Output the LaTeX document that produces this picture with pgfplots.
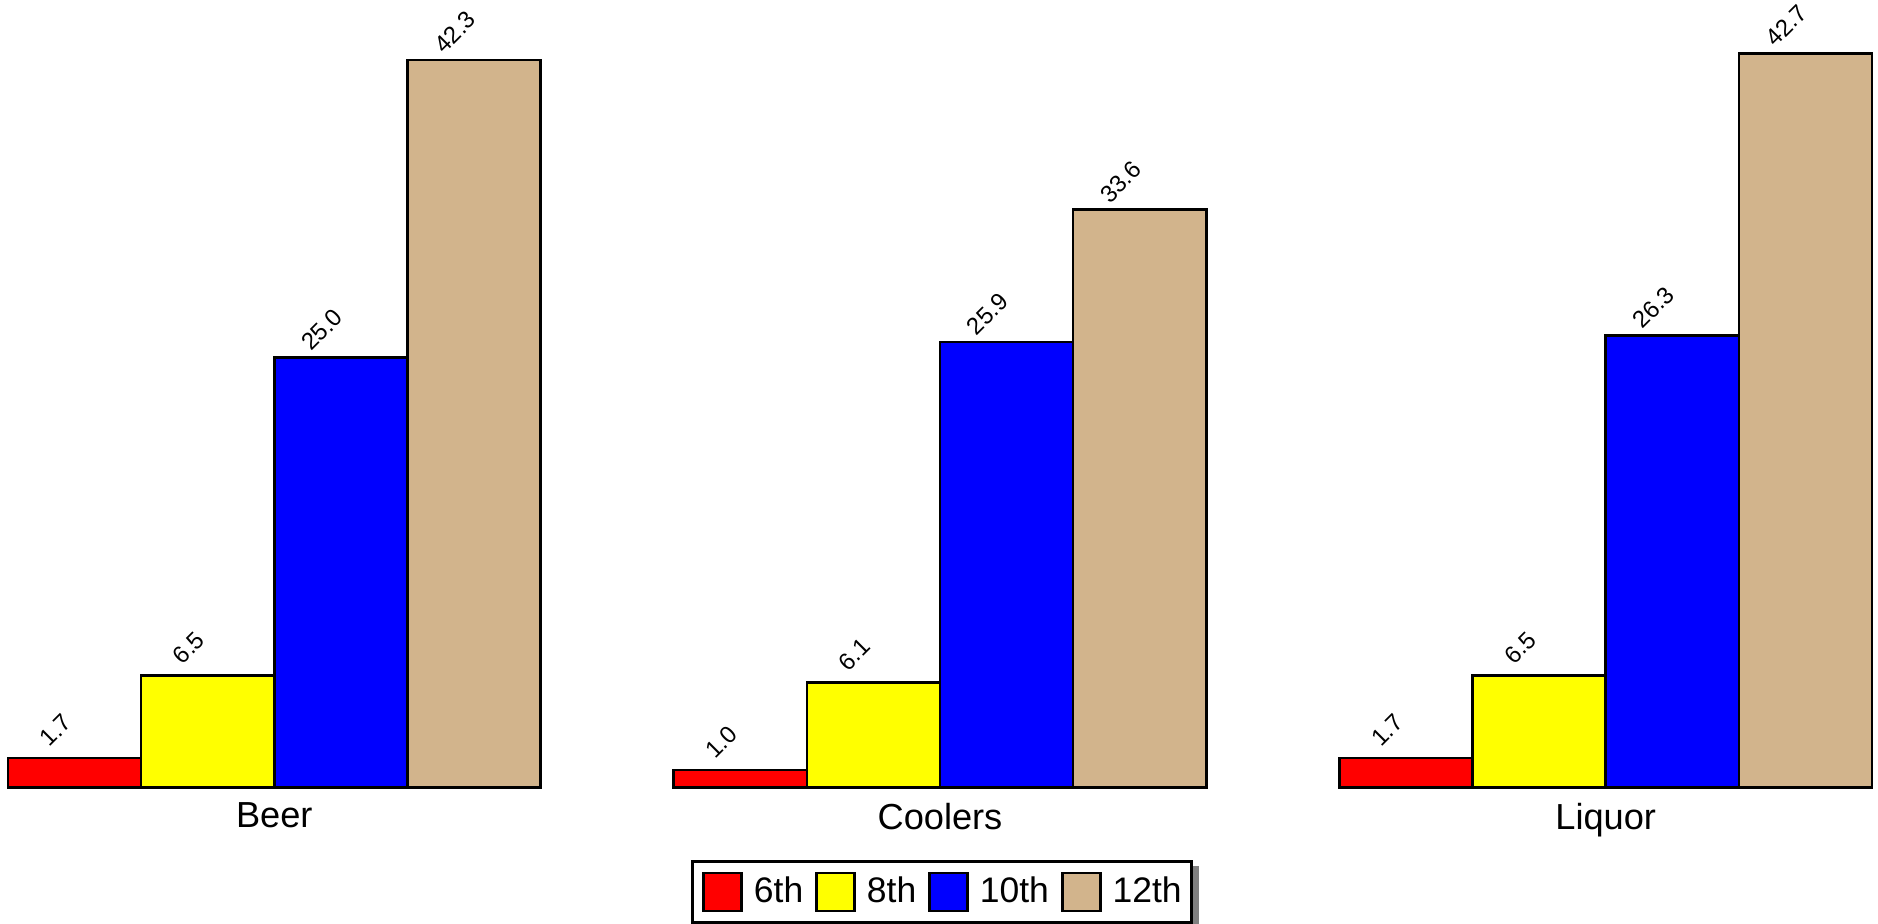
\documentclass[border=0pt]{standalone}
\usepackage{fontspec}
\setmainfont{Liberation Sans}
\usepackage{pgfplots}
\pgfplotsset{compat=1.18}
\usetikzlibrary{calc}
\pgfdeclarelayer{background}
\pgfsetlayers{background,main}

\definecolor{gr6}{RGB}{255,0,0}
\definecolor{gr8}{RGB}{255,255,0}
\definecolor{gr10}{RGB}{0,0,255}
\definecolor{gr12}{RGB}{210,180,140}

\begin{document}
\begin{tikzpicture}
\begin{axis}[
  scale only axis,
  width=18.78cm, height=7.87cm,
  xmin=-2.06, xmax=12.045,
  ymin=0, ymax=45.78,
  axis line style={draw=none},
  ytick=\empty,
  xtick={0,5,10},
  xticklabels={Beer,Coolers,Liquor},
  major tick length=0pt,
  tick label style={font=\fontsize{10.3}{12}\selectfont},
  xticklabel style={yshift=-0.03cm},
  clip=false,
  ybar, bar width=1, bar shift=0pt,
  every axis plot/.append style={draw=black, line width=0.75pt},
  /pgf/number format/assume math mode=true,
  nodes near coords,
  nodes near coords={\pgfmathprintnumber[fixed,fixed zerofill,precision=1]{\pgfplotspointmeta}},
  every node near coord/.style={font=\fontsize{6.8}{8}\selectfont, text=black,
    xshift=-0.19cm, yshift=0.28cm, rotate=45, anchor=center, inner sep=0pt},
  legend columns=-1,
  legend image code/.code={\draw[#1, line width=0.75pt] (0cm,-0.19cm) rectangle (0.38cm,0.19cm);},
  legend style={at={(0.5016,-0.0928)}, anchor=north, draw=black, line width=0.75pt,
    fill=white, name=legendbox,
    font=\fontsize{10.1}{12}\selectfont, inner sep=0.1cm,
    nodes={inner sep=0pt},
    /tikz/every odd column/.append style={column sep=0.11cm},
    /tikz/every even column/.append style={column sep=0.12cm}},
]
\addplot[fill=gr6] coordinates {(-1.5,1.7) (3.5,1.0) (8.5,1.7)};
\addplot[fill=gr8] coordinates {(-0.5,6.5) (4.5,6.1) (9.5,6.5)};
\addplot[fill=gr10] coordinates {(0.5,25.0) (5.5,25.9) (10.5,26.3)};
\addplot[fill=gr12] coordinates {(1.5,42.3) (6.5,33.6) (11.5,42.7)};
\legend{6th,8th,10th,12th}
\end{axis}
% grey drop shadow behind the legend frame (kept out of the bounding box)
\begin{pgfonlayer}{background}
  \fill[black!50, overlay] ($(legendbox.south west)+(0.06cm,-0.06cm)$)
    rectangle ($(legendbox.north east)+(0.06cm,-0.06cm)$);
\end{pgfonlayer}
\end{tikzpicture}
\end{document}
